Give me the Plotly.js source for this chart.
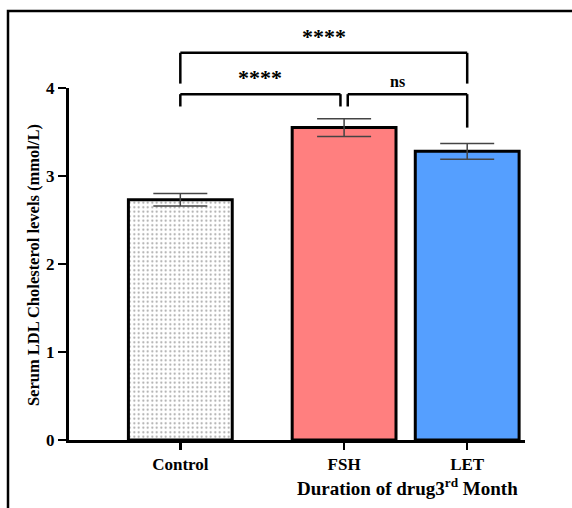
<!DOCTYPE html>
<html>
<head>
<meta charset="utf-8">
<script src="https://cdn.plot.ly/plotly-3.0.1.min.js"></script>
<style>html,body{margin:0;padding:0;background:#fff;}#chart{width:572px;height:508px;}</style>
</head>
<body>
<div id="chart"></div>
<script>
// ---- data ----
const categories = ["Control", "FSH", "LET"];
const means = [2.73, 3.55, 3.28];
const sems = [0.07, 0.10, 0.09];
const yTickVals = [0, 1, 2, 3, 4];
const comparisonLabels = ["****", "****", "ns"];

// ---- layout constants ----
const xPos = [0, 1.53, 2.68];
const xRange = [-1.04, 3.22];
const yRange = [0, 4];
const font = "'Liberation Serif', 'Times New Roman', serif";

const px = v => (v - xRange[0]) / (xRange[1] - xRange[0]);
const py = v => (v - yRange[0]) / (yRange[1] - yRange[0]);

const fills = ["#ffffff", "#FF7F7F", "#559FFF"];

const trace = {
  type: "bar",
  x: xPos,
  y: means,
  width: 0.97,
  marker: {
    color: fills,
    line: {color: "#000", width: 3},
    pattern: {shape: [".", "", ""], fgcolor: "#222", bgcolor: fills, size: 4.5, solidity: 0.16, fillmode: "overlay"}
  },
  error_y: {type: "data", array: sems, visible: true, color: "#444", thickness: 1.5, width: 27},
  hoverinfo: "none"
};

const shapes = [];
const annotations = [];
const lw = 2.5;
function seg(x0, y0, x1, y1) {
  shapes.push({type: "line", xref: "paper", yref: "paper", x0, y0, x1, y1, line: {color: "#000", width: lw}});
}
function label(x, y, text, size) {
  annotations.push({xref: "paper", yref: "paper", x, y, yanchor: "bottom", yshift: 2, text: "<b>" + text + "</b>", showarrow: false, font: {family: font, size, color: "#000"}});
}
// top bracket Control-LET
{
  const yTop = py(4.4), yLeg = py(4.05);
  const x0 = px(xPos[0]), x1 = px(xPos[2]);
  seg(x0, yTop, x1, yTop); seg(x0, yTop, x0, yLeg); seg(x1, yTop, x1, yLeg);
  label((x0 + x1) / 2, yTop, comparisonLabels[0], 22);
}
// Control-FSH
{
  const yTop = py(3.93), yLeg = py(3.79);
  const x0 = px(xPos[0]), x1 = px(xPos[1]) - 0.008;
  seg(x0, yTop, x1, yTop); seg(x0, yTop, x0, yLeg); seg(x1, yTop, x1, yLeg);
  label((x0 + x1) / 2, yTop, comparisonLabels[1], 22);
}
// FSH-LET
{
  const yTop = py(3.93), yLegL = py(3.79), yLegR = py(3.55);
  const x0 = px(xPos[1]) + 0.008, x1 = px(xPos[2]);
  seg(x0, yTop, x1, yTop); seg(x0, yTop, x0, yLegL); seg(x1, yTop, x1, yLegR);
  label((x0 + x1) / 2, yTop, comparisonLabels[2], 16);
}
// outer frame
shapes.push({type: "rect", xref: "paper", yref: "paper", x0: (8 - 69) / 456, x1: 1.3, y0: -0.4, y1: (440 - 11) / 352, line: {color: "#000", width: 2.5}, fillcolor: "rgba(0,0,0,0)"});

// axis titles
annotations.push({xref: "paper", yref: "paper", x: (33 - 69) / 456, y: 0.497, textangle: -90, text: "<b>Serum LDL Cholesterol levels (mmol/L)</b>", showarrow: false, font: {family: font, size: 16.5, color: "#000"}, xanchor: "center", yanchor: "middle"});
annotations.push({xref: "paper", yref: "paper", x: (407 - 69) / 456, y: (440 - 487) / 352, text: "<b>Duration of drug3<sup>rd</sup> Month</b>", showarrow: false, font: {family: font, size: 19, color: "#000"}, xanchor: "center", yanchor: "middle"});

const layout = {
  width: 572, height: 508,
  margin: {l: 69, r: 47, t: 88, b: 68, pad: 0},
  paper_bgcolor: "#fff", plot_bgcolor: "#fff",
  showlegend: false,
  font: {family: font, color: "#000"},
  xaxis: {
    range: xRange, tickvals: xPos, ticktext: categories.map(c => "<b>" + c + "</b>"),
    showline: true, linecolor: "#000", linewidth: 3,
    ticks: "outside", ticklen: 7, tickwidth: 2.5, tickcolor: "#000",
    showgrid: false, zeroline: false,
    tickfont: {family: font, size: 17, color: "#000"}
  },
  yaxis: {
    range: yRange, tickvals: yTickVals, ticktext: yTickVals.map(v => "<b>" + v + "</b>"),
    showline: true, linecolor: "#000", linewidth: 3,
    ticks: "outside", ticklen: 8, tickwidth: 2.5, tickcolor: "#000",
    showgrid: false, zeroline: false,
    tickfont: {family: font, size: 17, color: "#000"}
  },
  shapes, annotations
};

Plotly.newPlot("chart", [trace], layout, {displayModeBar: false, staticPlot: true});
</script>
</body>
</html>
